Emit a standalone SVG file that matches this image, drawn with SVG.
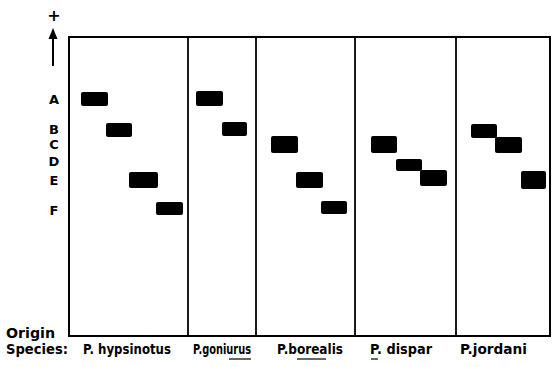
<svg xmlns="http://www.w3.org/2000/svg" width="555" height="367" viewBox="0 0 555 367">
<style>
.t{font-family:"DejaVu Sans","Liberation Sans",sans-serif;font-weight:bold;font-size:13.5px;fill:#000}
.l{font-family:"DejaVu Sans","Liberation Sans",sans-serif;font-weight:bold;font-size:13px;fill:#000;text-anchor:middle}
.band{fill:#000}
.frame{fill:none;stroke:#000;stroke-width:2}
.div{stroke:#000;stroke-width:1.8}
.ul{stroke:#000;stroke-width:1.2}
</style>
<g id="axis">
<text class="l" x="54" y="21" style="font-size:16px">+</text>
<line x1="53" y1="66" x2="53" y2="36" stroke="#000" stroke-width="2"/>
<polygon points="53,28 57.5,39 48.5,39" fill="#000"/>
<text class="l" x="54" y="104">A</text>
<text class="l" x="54" y="134">B</text>
<text class="l" x="54" y="149">C</text>
<text class="l" x="54" y="166">D</text>
<text class="l" x="54" y="185">E</text>
<text class="l" x="54" y="215">F</text>
<text class="t" x="6" y="338" textLength="49" lengthAdjust="spacingAndGlyphs">Origin</text>
<text class="t" x="6" y="354" textLength="62" lengthAdjust="spacingAndGlyphs">Species:</text>
</g>
<g id="frame">
<rect class="frame" x="69" y="37" width="481" height="299"/>
<line class="div" x1="188" y1="37" x2="188" y2="336"/>
<line class="div" x1="256" y1="37" x2="256" y2="336"/>
<line class="div" x1="355" y1="37" x2="355" y2="336"/>
<line class="div" x1="456" y1="37" x2="456" y2="336"/>
</g>
<g id="lane-hypsinotus">
<rect class="band" x="81" y="92" width="27" height="14" rx="2"/>
<rect class="band" x="106" y="123" width="26" height="14" rx="2"/>
<rect class="band" x="129" y="172" width="29" height="16" rx="2"/>
<rect class="band" x="156" y="202" width="27" height="13" rx="2"/>
<text class="t" x="83" y="354" textLength="88" lengthAdjust="spacingAndGlyphs">P. hypsinotus</text>
</g>
<g id="lane-goniurus">
<rect class="band" x="196" y="91" width="27" height="15" rx="2"/>
<rect class="band" x="222" y="122" width="25" height="14" rx="2"/>
<text class="t" x="193" y="354" textLength="58" lengthAdjust="spacingAndGlyphs">P.goniurus</text>
<line class="ul" x1="229" y1="359" x2="251" y2="359"/>
</g>
<g id="lane-borealis">
<rect class="band" x="271" y="136" width="27" height="17" rx="2"/>
<rect class="band" x="296" y="172" width="27" height="16" rx="2"/>
<rect class="band" x="321" y="201" width="26" height="13" rx="2"/>
<text class="t" x="277" y="354" textLength="66" lengthAdjust="spacingAndGlyphs">P.borealis</text>
<line class="ul" x1="297" y1="359" x2="326" y2="359"/>
</g>
<g id="lane-dispar">
<rect class="band" x="371" y="136" width="26" height="17" rx="2"/>
<rect class="band" x="396" y="159" width="26" height="12" rx="2"/>
<rect class="band" x="420" y="170" width="27" height="16" rx="2"/>
<text class="t" x="370" y="354" textLength="62" lengthAdjust="spacingAndGlyphs">P. dispar</text>
<line class="ul" x1="371" y1="359" x2="378" y2="359"/>
</g>
<g id="lane-jordani">
<rect class="band" x="471" y="124" width="26" height="14" rx="2"/>
<rect class="band" x="495" y="137" width="27" height="16" rx="2"/>
<rect class="band" x="521" y="171" width="25" height="18" rx="2"/>
<text class="t" x="460" y="354" textLength="67" lengthAdjust="spacingAndGlyphs">P.jordani</text>
</g>
</svg>
